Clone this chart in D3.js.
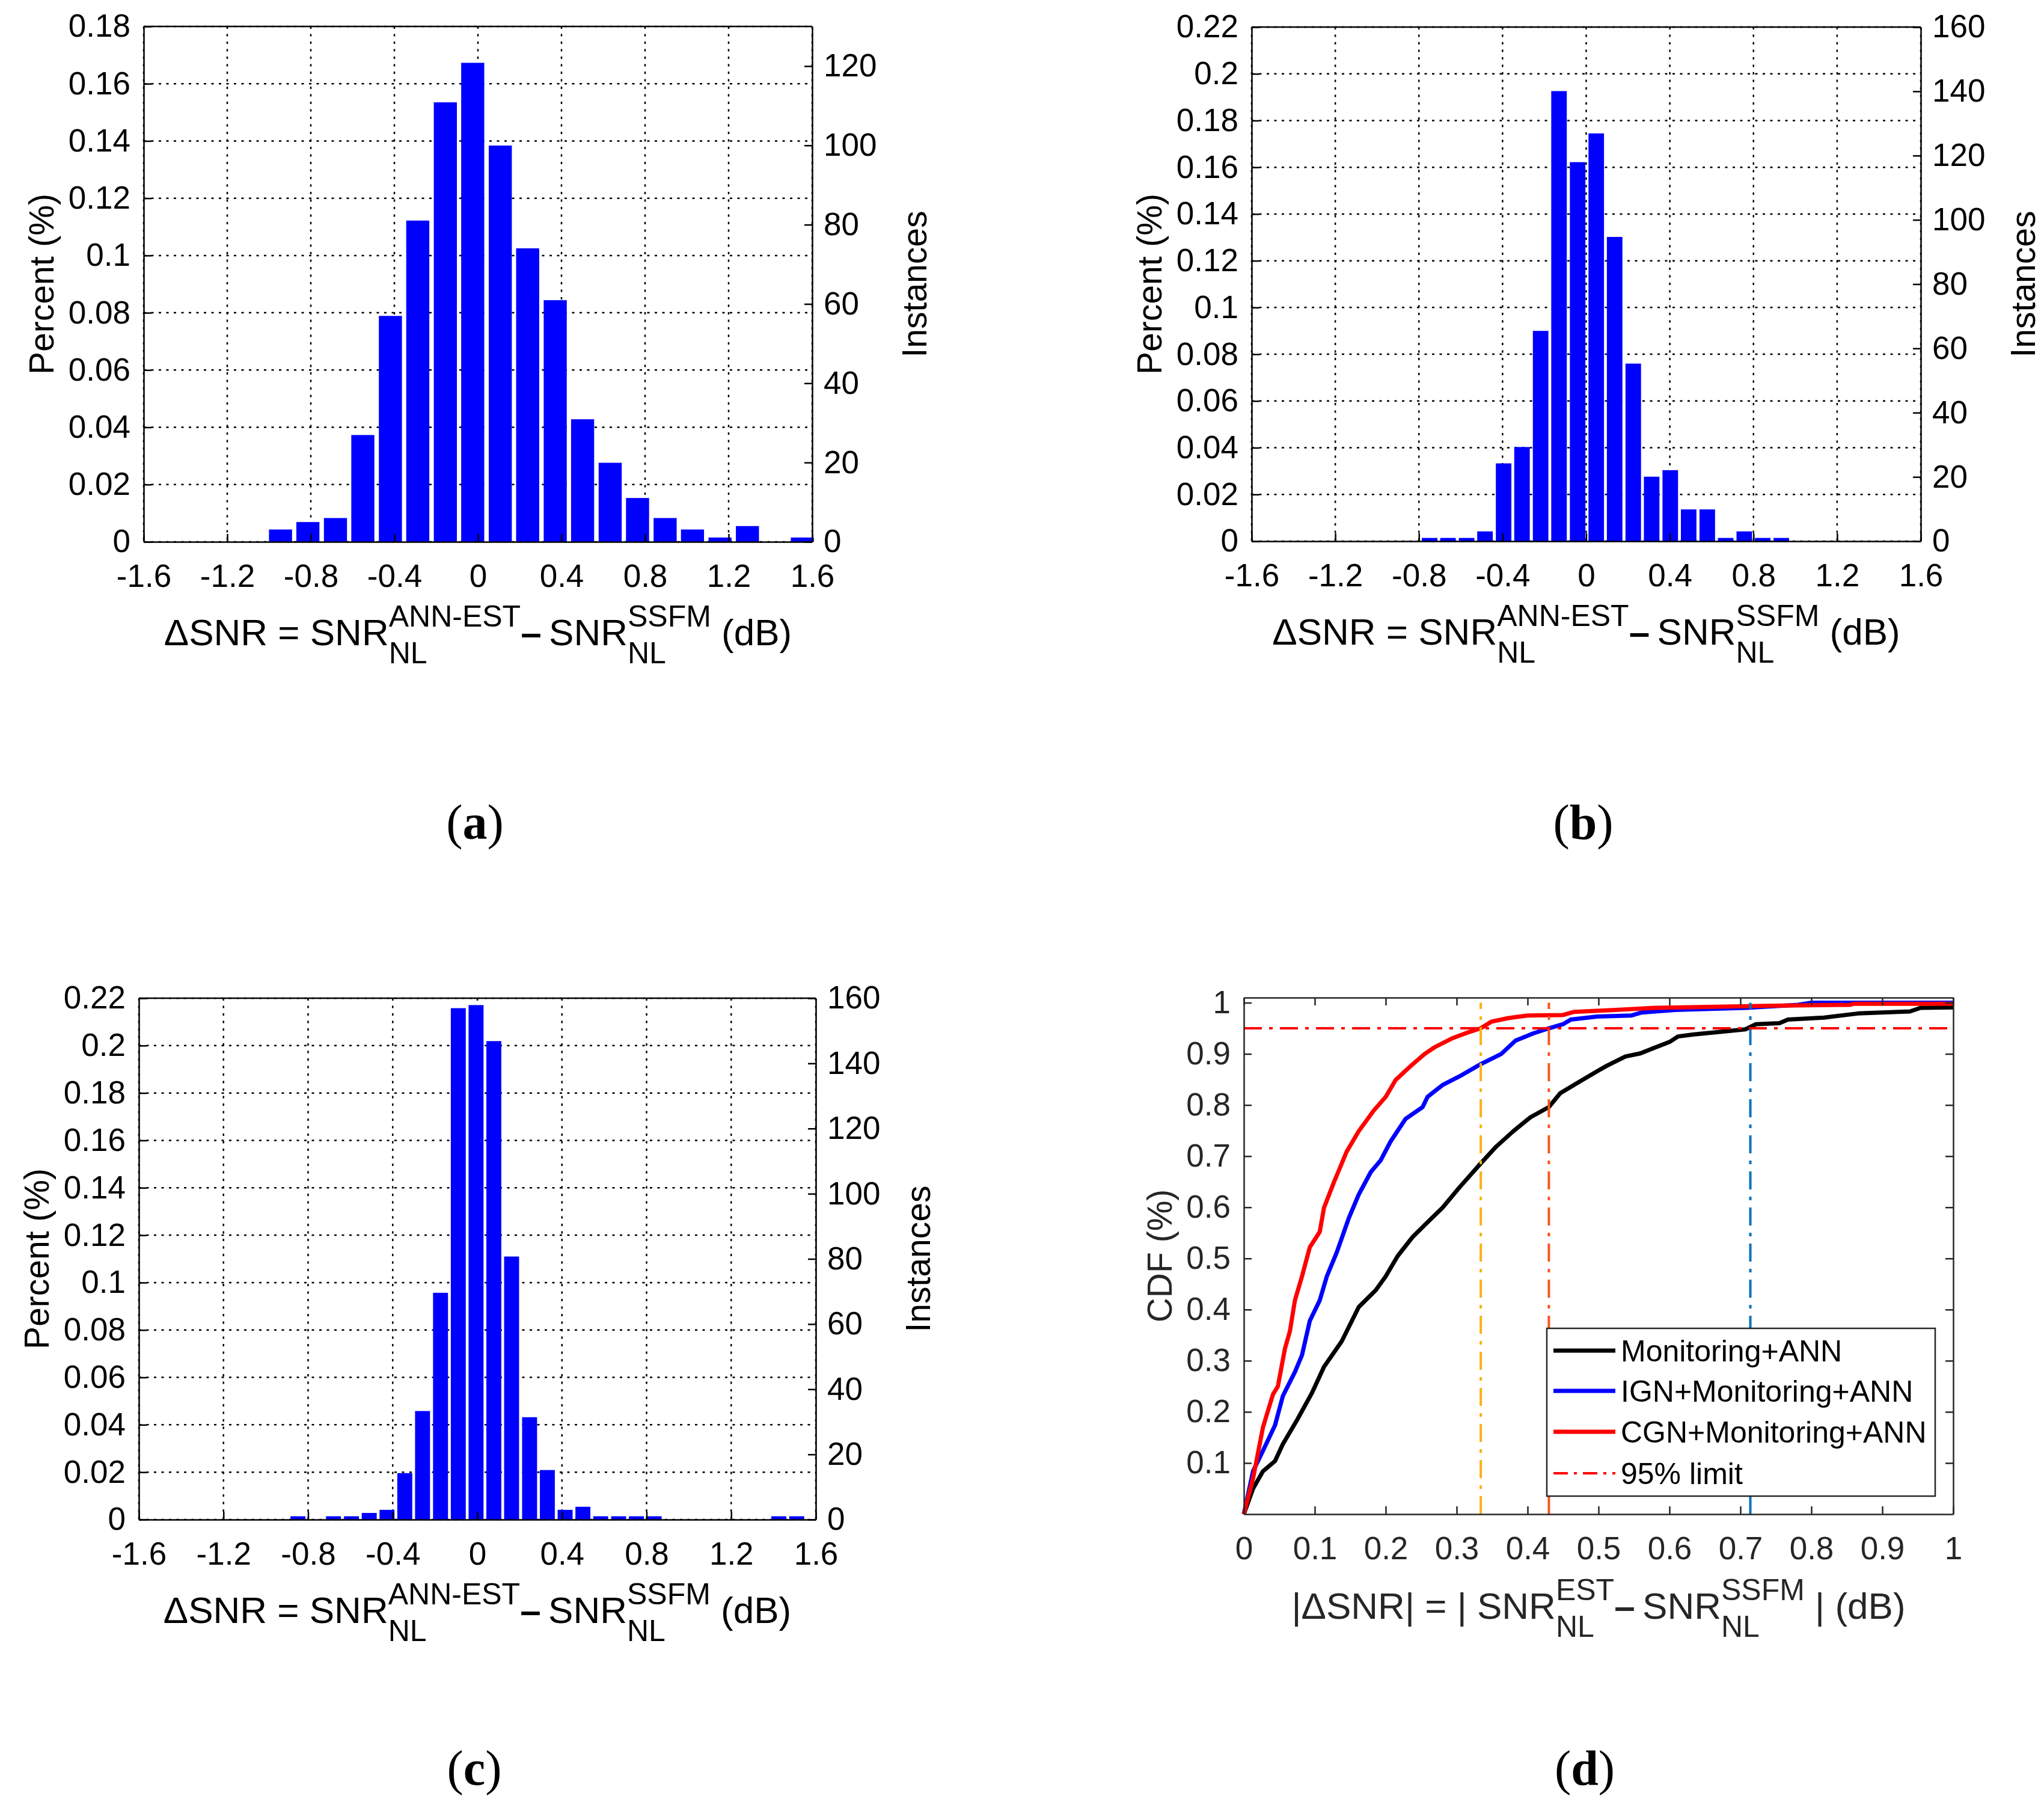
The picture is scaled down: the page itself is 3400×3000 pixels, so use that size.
<!DOCTYPE html>
<html>
<head>
<meta charset="utf-8">
<script src="https://cdnjs.cloudflare.com/ajax/libs/d3/7.8.5/d3.min.js"></script>
<style>
body { margin: 0; background: #fff; }
text { font-family: 'Liberation Sans', Arial, sans-serif; }
</style>
</head>
<body>
<div id="chart-area"></div>
<script>
// ---- data ----
const histXTicks = [-1.6, -1.2, -0.8, -0.4, 0, 0.4, 0.8, 1.2, 1.6];
const aYTicks = [0, 0.02, 0.04, 0.06, 0.08, 0.1, 0.12, 0.14, 0.16, 0.18];
const bcYTicks = [0, 0.02, 0.04, 0.06, 0.08, 0.1, 0.12, 0.14, 0.16, 0.18, 0.2, 0.22];
const aInstTicks = [0, 20, 40, 60, 80, 100, 120];
const bcInstTicks = [0, 20, 40, 60, 80, 100, 120, 140, 160];

// (a)
const aCenters = [-0.945, -0.814, -0.682, -0.551, -0.419, -0.288, -0.156, -0.025, 0.107, 0.238,
                  0.370, 0.501, 0.633, 0.764, 0.896, 1.027, 1.159, 1.290, 1.422, 1.553];
const aPercent = [0.0043, 0.0069, 0.0083, 0.0373, 0.0789, 0.1122, 0.1535, 0.1673, 0.1384, 0.1025,
                  0.0844, 0.0428, 0.0276, 0.0153, 0.0083, 0.0043, 0.0015, 0.0055, 0, 0.0015];
const aBinWidth = 0.1315;

// (b)
const bCenters = [-0.749, -0.661, -0.572, -0.484, -0.395, -0.307, -0.218, -0.130, -0.041, 0.048,
                  0.136, 0.225, 0.313, 0.402, 0.490, 0.579, 0.667, 0.756, 0.844, 0.933];
const bPercent = [0.0014, 0.0014, 0.0014, 0.0042, 0.0333, 0.0403, 0.0900, 0.1926, 0.1622, 0.1745,
                  0.1302, 0.0760, 0.0276, 0.0304, 0.0136, 0.0136, 0.0014, 0.0042, 0.0014, 0.0014];
const bBinWidth = 0.0885;

// (c)
const cCenters = [-0.848, -0.764, -0.680, -0.595, -0.511, -0.427, -0.343, -0.259, -0.174, -0.090,
                  -0.006, 0.078, 0.162, 0.247, 0.331, 0.415, 0.499, 0.583, 0.668, 0.752,
                  0.836, 0.920, 1.004, 1.089, 1.173, 1.257, 1.341, 1.425, 1.510];
const cPercent = [0.0014, 0, 0.0014, 0.0014, 0.0028, 0.0041, 0.0196, 0.0458, 0.0957, 0.2158,
                  0.2171, 0.2019, 0.1110, 0.0432, 0.0209, 0.0041, 0.0054, 0.0014, 0.0014, 0.0014,
                  0.0014, 0, 0, 0, 0, 0, 0, 0.0014, 0.0014];
const cBinWidth = 0.0842;

// (d)
const cdfXTicks = [0, 0.1, 0.2, 0.3, 0.4, 0.5, 0.6, 0.7, 0.8, 0.9, 1];
const cdfYTicks = [0.1, 0.2, 0.3, 0.4, 0.5, 0.6, 0.7, 0.8, 0.9, 1];
const monitoringCdf = [[0,0],[0.013,0.05],[0.027,0.084],[0.044,0.104],[0.055,0.137],[0.075,0.184],
  [0.096,0.237],[0.113,0.288],[0.138,0.338],[0.162,0.405],[0.186,0.438],[0.2,0.465],[0.217,0.505],
  [0.238,0.542],[0.262,0.575],[0.28,0.599],[0.304,0.639],[0.334,0.686],[0.356,0.719],[0.38,0.749],
  [0.404,0.776],[0.43,0.796],[0.446,0.823],[0.47,0.843],[0.498,0.866],[0.512,0.877],[0.538,0.895],
  [0.559,0.901],[0.577,0.911],[0.601,0.924],[0.612,0.934],[0.634,0.938],[0.671,0.943],[0.707,0.948],
  [0.722,0.958],[0.755,0.96],[0.767,0.967],[0.818,0.971],[0.866,0.979],[0.939,0.983],[0.954,0.99],[1,0.991]];
const ignCdf = [[0,0],[0.013,0.084],[0.027,0.124],[0.044,0.174],[0.055,0.231],[0.072,0.278],
  [0.082,0.311],[0.093,0.378],[0.107,0.418],[0.117,0.465],[0.131,0.512],[0.148,0.579],[0.162,0.625],
  [0.179,0.669],[0.193,0.692],[0.207,0.729],[0.228,0.773],[0.252,0.796],[0.259,0.816],[0.28,0.839],
  [0.304,0.856],[0.334,0.88],[0.363,0.9],[0.383,0.926],[0.408,0.94],[0.43,0.95],[0.45,0.958],
  [0.461,0.967],[0.498,0.973],[0.546,0.975],[0.561,0.981],[0.608,0.986],[0.708,0.99],[0.781,0.996],
  [0.8,1.0],[1,1.0]];
const cgnCdf = [[0,0],[0.013,0.07],[0.027,0.17],[0.041,0.234],[0.048,0.25],[0.058,0.324],[0.065,0.358],
  [0.072,0.418],[0.082,0.465],[0.093,0.522],[0.107,0.552],[0.113,0.599],[0.127,0.649],[0.145,0.709],
  [0.162,0.749],[0.183,0.789],[0.2,0.816],[0.214,0.849],[0.235,0.876],[0.255,0.9],[0.269,0.913],
  [0.293,0.93],[0.314,0.941],[0.334,0.95],[0.349,0.963],[0.373,0.97],[0.4,0.975],[0.45,0.976],
  [0.465,0.982],[0.524,0.986],[0.579,0.99],[0.664,0.992],[0.744,0.994],[0.855,0.996],[0.86,0.998],[1,0.998]];
const limitLevel = 0.95;
const limitCross = [0.334, 0.430, 0.714];
const legendNames = ["Monitoring+ANN", "IGN+Monitoring+ANN", "CGN+Monitoring+ANN", "95% limit"];

// ---- drawing ----
const W = 3400, H = 3000;
const svg = d3.select("#chart-area").append("svg")
            .attr("width", W).attr("height", H).style("background", "#fff");

const tickFont = 53, titleFont = 57, mathFont = 62, scriptFont = 50;
const dashDot = "30,12,6,12";

// text with stacked super/subscripts, centred on cx
function mathLabel(cx, baseline, parts, color) {
    const grp = svg.append("g").attr("fill", color);
    let xpos = 0;
    parts.forEach(function(p) {
        if (p.t !== undefined) {
            const t = grp.append("text").attr("x", xpos).attr("y", 0)
                        .attr("font-size", mathFont)
                        .attr("font-weight", p.bold ? "bold" : null).text(p.t);
            xpos += t.node().getComputedTextLength();
        } else {
            const up = grp.append("text").attr("x", xpos).attr("y", -31)
                        .attr("font-size", scriptFont).text(p.sup);
            const dn = grp.append("text").attr("x", xpos).attr("y", 30)
                        .attr("font-size", scriptFont).text(p.sub);
            xpos += Math.max(up.node().getComputedTextLength(), dn.node().getComputedTextLength());
        }
    });
    grp.attr("transform", 'translate(' + (cx - xpos / 2) + ',' + baseline + ')');
}

function panelLabel(cx, baseline, letter) {
    const lab = svg.append("text").attr("x", cx).attr("y", baseline)
                .attr("text-anchor", "middle").attr("font-size", 82)
                .style("font-family", "'Liberation Serif','Times New Roman',serif");
    lab.append("tspan").text("(");
    lab.append("tspan").attr("font-weight", "bold").text(letter);
    lab.append("tspan").text(")");
}

function styleAxis(sel, color) {
    sel.attr("font-size", tickFont).attr("font-family", null);
    sel.selectAll("text").attr("fill", color);
    sel.selectAll("line").attr("stroke", color).attr("stroke-width", 2.5);
    sel.select(".domain").attr("stroke", color).attr("stroke-width", 2.5);
}

function rotatedTitle(cx, cy, label, color) {
    svg.append("text").attr("transform", 'translate(' + cx + ',' + cy + ') rotate(-90)')
        .attr("text-anchor", "middle").attr("dy", "0.35em")
        .attr("font-size", titleFont).attr("fill", color).text(label);
}

const histTitle = [{t: "\u0394SNR = SNR"}, {sup: "ANN-EST", sub: "NL"}, {t: "\u2013", bold: true},
                   {t: "\u2009SNR"}, {sup: "SSFM", sub: "NL"}, {t: "\u00a0(dB)"}];

function histPanel(p) {
    const g = svg.append("g");
    const x = d3.scaleLinear().domain([-1.6, 1.6]).range([p.left, p.right]);
    const y = d3.scaleLinear().domain([0, p.yMax]).range([p.bottom, p.top]);
    const yR = d3.scaleLinear().domain([0, p.rMax]).range([p.bottom, p.top]);

    // dotted grid
    g.append("g").selectAll("line").data(histXTicks).join("line")
        .attr("x1", d => x(d)).attr("x2", d => x(d)).attr("y1", p.top).attr("y2", p.bottom)
        .attr("stroke", "#000").attr("stroke-width", 2.5).attr("stroke-dasharray", "4,8.5");
    g.append("g").selectAll("line").data(p.yTicks).join("line")
        .attr("x1", p.left).attr("x2", p.right).attr("y1", d => y(d)).attr("y2", d => y(d))
        .attr("stroke", "#000").attr("stroke-width", 2.5).attr("stroke-dasharray", "4,8.5");

    // bars
    const half = p.binW * 0.42;
    const bins = p.centers.map((c, i) => ({c: c, v: p.pct[i]}));
    g.append("g").selectAll("rect").data(bins).join("rect")
        .attr("x", d => x(d.c - half))
        .attr("width", d => x(d.c + half) - x(d.c - half))
        .attr("y", d => y(d.v))
        .attr("height", d => y(0) - y(d.v))
        .attr("fill", "#0000ff");

    // axes
    const xa = g.append("g").attr("transform", 'translate(0,' + p.bottom + ')')
        .call(d3.axisBottom(x).tickValues(histXTicks).tickFormat(d => String(d))
              .tickSize(-13).tickSizeOuter(0).tickPadding(37));
    styleAxis(xa, "#000");
    const ya = g.append("g").attr("transform", 'translate(' + p.left + ',0)')
        .call(d3.axisLeft(y).tickValues(p.yTicks).tickFormat(d => String(d))
              .tickSize(-13).tickSizeOuter(0).tickPadding(22));
    styleAxis(ya, "#000");
    const ra = g.append("g").attr("transform", 'translate(' + p.right + ',0)')
        .call(d3.axisRight(yR).tickValues(p.rTicks).tickFormat(d => String(d))
              .tickSize(-13).tickSizeOuter(0).tickPadding(19));
    styleAxis(ra, "#000");
    g.append("line").attr("x1", p.left).attr("x2", p.right).attr("y1", p.top).attr("y2", p.top)
        .attr("stroke", "#000").attr("stroke-width", 2.5);

    rotatedTitle(p.left - 170, (p.top + p.bottom) / 2, "Percent (%)", "#000");
    rotatedTitle(p.right + 170, (p.top + p.bottom) / 2, "Instances", "#000");
    mathLabel((p.left + p.right) / 2, p.bottom + 172, histTitle, "#000");
    panelLabel((p.left + p.right) / 2 - 5, p.labelY, p.label);
}

histPanel({left: 239, right: 1351, top: 44, bottom: 901, yMax: 0.18, yTicks: aYTicks,
           rMax: 130, rTicks: aInstTicks, centers: aCenters, pct: aPercent, binW: aBinWidth,
           label: "a", labelY: 1395});
histPanel({left: 2082, right: 3195, top: 45, bottom: 900, yMax: 0.22, yTicks: bcYTicks,
           rMax: 160, rTicks: bcInstTicks, centers: bCenters, pct: bPercent, binW: bBinWidth,
           label: "b", labelY: 1395});
histPanel({left: 231, right: 1357, top: 1660, bottom: 2527, yMax: 0.22, yTicks: bcYTicks,
           rMax: 160, rTicks: bcInstTicks, centers: cCenters, pct: cPercent, binW: cBinWidth,
           label: "c", labelY: 2968});

// (d) CDF panel
function cdfPanel(p) {
    const ink = "#262626";
    const g = svg.append("g");
    const x = d3.scaleLinear().domain([0, 1]).range([p.left, p.right]);
    const y = d3.scaleLinear().domain([0, 1.01]).range([p.bottom, p.top]);
    const line = d3.line().x(d => x(d[0])).y(d => y(d[1]));

    const curves = [monitoringCdf, ignCdf, cgnCdf];
    const curveColors = ["#000000", "#0000ff", "#ff0000"];
    g.append("g").selectAll("path").data(curves).join("path")
        .attr("d", line).attr("fill", "none")
        .attr("stroke", (d, i) => curveColors[i]).attr("stroke-width", 7)
        .attr("stroke-linejoin", "round");

    const crossColors = ["#fbb117", "#f5571b", "#0072bd"];
    g.append("g").selectAll("line").data(limitCross).join("line")
        .attr("x1", d => x(d)).attr("x2", d => x(d)).attr("y1", y(0)).attr("y2", y(1))
        .attr("stroke", (d, i) => crossColors[i]).attr("stroke-width", 4)
        .attr("stroke-dasharray", dashDot);
    g.append("line").attr("x1", x(0)).attr("x2", x(1))
        .attr("y1", y(limitLevel)).attr("y2", y(limitLevel))
        .attr("stroke", "#ff0000").attr("stroke-width", 4).attr("stroke-dasharray", dashDot);

    const xa = g.append("g").attr("transform", 'translate(0,' + p.bottom + ')')
        .call(d3.axisBottom(x).tickValues(cdfXTicks).tickFormat(d => String(d))
              .tickSize(-13).tickSizeOuter(0).tickPadding(37));
    styleAxis(xa, ink);
    const ya = g.append("g").attr("transform", 'translate(' + p.left + ',0)')
        .call(d3.axisLeft(y).tickValues(cdfYTicks).tickFormat(d => String(d))
              .tickSize(-13).tickSizeOuter(0).tickPadding(22));
    styleAxis(ya, ink);
    const ta = g.append("g").attr("transform", 'translate(0,' + p.top + ')')
        .call(d3.axisTop(x).tickValues(cdfXTicks).tickFormat("").tickSize(-13).tickSizeOuter(0));
    styleAxis(ta, ink);
    const ra = g.append("g").attr("transform", 'translate(' + p.right + ',0)')
        .call(d3.axisRight(y).tickValues(cdfYTicks).tickFormat("").tickSize(-13).tickSizeOuter(0));
    styleAxis(ra, ink);

    // legend
    const lg = g.append("g");
    lg.append("rect").attr("x", 2573).attr("y", 2209).attr("width", 646).attr("height", 279)
        .attr("fill", "#fff").attr("stroke", ink).attr("stroke-width", 2.5);
    const rowY = [2246, 2313, 2381, 2450];
    const legColors = ["#000000", "#0000ff", "#ff0000", "#ff0000"];
    legendNames.forEach(function(name, i) {
        lg.append("line").attr("x1", 2584).attr("x2", 2687).attr("y1", rowY[i]).attr("y2", rowY[i])
            .attr("stroke", legColors[i]).attr("stroke-width", i < 3 ? 7 : 4)
            .attr("stroke-dasharray", i < 3 ? null : "24,10,5,10");
        lg.append("text").attr("x", 2696).attr("y", rowY[i]).attr("dy", "0.35em")
            .attr("font-size", 50).attr("fill", "#000").text(name);
    });

    rotatedTitle(1929, (p.top + p.bottom) / 2, "CDF (%)", ink);
    mathLabel((p.left + p.right) / 2, p.bottom + 174,
        [{t: "|\u0394SNR| = | SNR"}, {sup: "EST", sub: "NL"}, {t: "\u2013", bold: true},
         {t: "\u2009SNR"}, {sup: "SSFM", sub: "NL"}, {t: "\u00a0| (dB)"}], ink);
    panelLabel(2636, 2968, "d");
}

cdfPanel({left: 2069, right: 3249, top: 1659, bottom: 2518});
</script>
</body>
</html>
